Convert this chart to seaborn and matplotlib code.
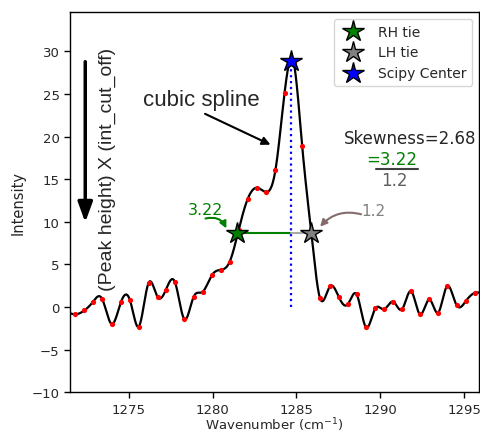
import numpy as np
import seaborn as sns
import matplotlib
matplotlib.use("Agg")
import matplotlib.pyplot as plt

# measured spectrum points (red dots)
wavenumber = [1271.26, 1271.80, 1272.36, 1272.86, 1273.41, 1273.99, 1274.54, 1275.08,
              1275.60, 1276.19, 1276.73, 1277.22, 1277.76, 1278.32, 1278.87, 1279.40,
              1279.98, 1280.52, 1281.01, 1281.55, 1282.10, 1282.64, 1283.20, 1283.75,
              1284.29, 1284.84, 1285.34, 1285.90, 1286.41, 1287.01, 1287.52, 1288.05,
              1288.59, 1289.15, 1289.70, 1290.20, 1290.77, 1291.29, 1291.83, 1292.36,
              1292.92, 1293.45, 1293.97, 1294.54, 1295.10, 1295.64, 1296.18]
intensity = [-0.5, -0.86, -0.40, 0.58, 0.97, -2.0, 0.58, 0.77,
             -2.3, 2.85, 1.16, 2.03, 2.9, -1.44, 1.19, 1.77,
             3.79, 4.37, 5.27, 9.0, 12.71, 13.99, 13.49, 16.1,
             25.1, 28.6, 18.9, 8.4, 1.0, 2.44, 1.19, 0.30,
             1.47, -2.4, -0.16, -0.28, 0.62, -0.28, 1.86, -0.86,
             0.88, -0.66, 2.44, 0.23, 0.70, 1.66, 1.5]

# peak results shown on the chart
center_x = 1284.68
peak_height = 28.9
int_cut_off = 0.3
rh_width = 3.22
lh_width = 1.2


def natural_spline(x, y, xs):
    x = np.asarray(x, float)
    y = np.asarray(y, float)
    n = len(x)
    h = np.diff(x)
    A = np.zeros((n, n))
    b = np.zeros(n)
    A[0, 0] = A[-1, -1] = 1
    for i in range(1, n - 1):
        A[i, i - 1] = h[i - 1]
        A[i, i] = 2 * (h[i - 1] + h[i])
        A[i, i + 1] = h[i]
        b[i] = 3 * ((y[i + 1] - y[i]) / h[i] - (y[i] - y[i - 1]) / h[i - 1])
    c = np.linalg.solve(A, b)
    bc = (y[1:] - y[:-1]) / h - h * (2 * c[:-1] + c[1:]) / 3
    d = (c[1:] - c[:-1]) / (3 * h)
    idx = np.clip(np.searchsorted(x, xs) - 1, 0, n - 2)
    dx = xs - x[idx]
    return y[idx] + bc[idx] * dx + c[idx] * dx ** 2 + d[idx] * dx ** 3


xs = np.linspace(wavenumber[0], wavenumber[-1], 4000)
ys = natural_spline(wavenumber, intensity, xs)

tie = peak_height * int_cut_off
rh_x = center_x - rh_width
lh_x = center_x + lh_width

sns.set_theme(style="ticks")
plt.rcParams["axes.edgecolor"] = "black"
plt.rcParams["axes.linewidth"] = 1.0

fig = plt.figure(figsize=(4.81, 4.35), dpi=100)
ax = fig.add_axes([0.1455, 0.096, 0.851, 0.874])

sns.lineplot(x=xs, y=ys, color="black", lw=1.6, ax=ax, zorder=2)
sns.scatterplot(x=wavenumber, y=intensity, color="red", s=14, linewidth=0, ax=ax, zorder=3)

ax.plot([rh_x, center_x], [tie, tie], color="green", lw=1.5, zorder=2)
ax.plot([center_x, lh_x], [tie, tie], color="darkgray", lw=1.5, zorder=2)
ax.plot([center_x, center_x], [0, peak_height], color="blue", ls=":", lw=1.6, zorder=2)

ax.plot(rh_x, tie, marker="*", ms=16, mfc="green", mec="black", ls="none", label="RH tie", zorder=4)
ax.plot(lh_x, tie, marker="*", ms=16, mfc="gray", mec="black", ls="none", label="LH tie", zorder=4)
ax.plot(center_x, peak_height, marker="*", ms=16, mfc="blue", mec="black", ls="none",
        label="Scipy Center", zorder=4)

ax.legend(loc="upper right", fontsize=10, frameon=True)

arial = "Liberation Sans"
ax.text(1279.3, 24.3, "cubic spline", fontsize=16, family=arial, ha="center", va="center")
ax.annotate("", xy=(1283.6, 18.9), xytext=(1279.4, 22.8),
            arrowprops=dict(arrowstyle="-|>", color="black", lw=1.5, mutation_scale=12))

ax.annotate("", xy=(1272.41, 9.6), xytext=(1272.41, 29.1),
            arrowprops=dict(arrowstyle="-|>,head_length=0.55,head_width=0.2",
                            color="black", lw=2.5, mutation_scale=22))
ax.text(1273.75, 16.2, "(Peak height) X (int_cut_off)", fontsize=14, family=arial,
        rotation=90, ha="center", va="center")

# width labels with curved arrows to the tie stars
ax.text(1279.6, 11.45, f"{rh_width:.2f}", color="green", fontsize=11.5, ha="center", va="center")
ax.annotate("", xy=(1280.82, 9.22), xytext=(1279.58, 10.38),
            arrowprops=dict(arrowstyle="-|>", color="green", lw=1.5,
                            connectionstyle="arc3,rad=-0.4", mutation_scale=10,
                            shrinkA=0, shrinkB=0))
ax.text(1289.6, 11.3, f"{lh_width:.1f}", color="gray", fontsize=11, ha="center", va="center")
ax.annotate("", xy=(1286.41, 9.42), xytext=(1288.85, 10.88),
            arrowprops=dict(arrowstyle="-|>", color="#856c6c", lw=1.5,
                            connectionstyle="arc3,rad=0.3", mutation_scale=10,
                            shrinkA=0, shrinkB=0))

ax.text(1291.8, 19.8, f"Skewness={rh_width / lh_width:.2f}", fontsize=12, ha="center", va="center")
ax.text(1290.7, 17.35, f"={rh_width:.2f}", fontsize=12, color="green", ha="center", va="center")
ax.plot([1289.76, 1292.26], [16.2, 16.2], color="#404040", lw=1.5)
ax.text(1290.85, 14.9, f"{lh_width:.1f}", fontsize=12, color="#606060", ha="center", va="center")

ax.set_xlim(1271.5, 1295.9)
ax.set_ylim(-10, 34.6)
ax.set_xticks([1275, 1280, 1285, 1290, 1295])
ax.set_yticks([-10, -5, 0, 5, 10, 15, 20, 25, 30])
ax.tick_params(labelsize=9.5, length=4, width=1, color="black")
ax.set_xlabel("Wavenumber (cm$^{-1}$)", fontsize=9.5, labelpad=0)
ax.set_ylabel("Intensity", fontsize=10.5, labelpad=4)

fig.savefig("out.png", dpi=100)
